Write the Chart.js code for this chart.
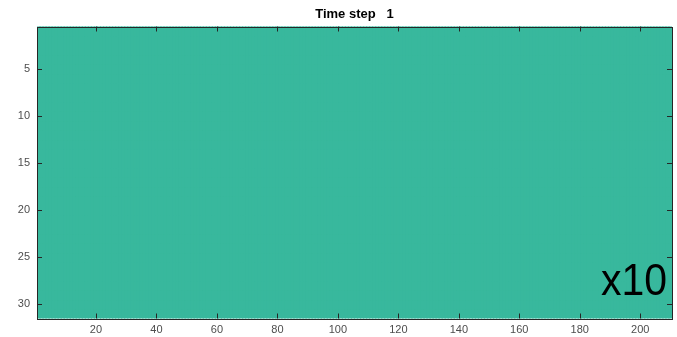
<!DOCTYPE html>
<html>
<head>
<meta charset="utf-8">
<script src="https://cdn.jsdelivr.net/npm/chart.js@4/dist/chart.umd.min.js"></script>
<style>
  html, body { margin: 0; padding: 0; background: #ffffff; }
  #wrap { width: 677px; height: 337px; position: relative; }
</style>
</head>
<body>
<div id="wrap"><canvas id="c"></canvas></div>
<script>
// ---- data ----
const titleText = "Time step   1";
const annotationText = "x10";
const nCols = 210;            // image columns (x)
const nRows = 31;             // image rows (y)
const cellValue = 0.55;       // every cell of the field has the same value at this step
const xTicks = [20, 40, 60, 80, 100, 120, 140, 160, 180, 200];
const yTicks = [5, 10, 15, 20, 25, 30];
const fieldRows = Array.from({length: nRows}, () => Array(nCols).fill(cellValue));

// colormap lookup (only the value present is needed; teal of the reference)
function colorFor(v) { return 'rgb(56,184,157)'; }

const datasets = fieldRows.map((row, r) => ({
  label: 'row ' + (r + 1),
  data: row.map((v, c) => ({ x: c + 1, y: [r + 0.5, r + 1.5], v: v })),
  backgroundColor: row.map(v => colorFor(v)),
  borderWidth: 0,
  barPercentage: 1,
  categoryPercentage: 1,
  inflateAmount: 0.6,
  grouped: false
}));

const axisColor = '#262626';
const labelColor = '#4d4d4d';

const framePlugin = {
  id: 'frame',
  afterDatasetsDraw(chart) {
    const {ctx, chartArea: a, scales} = chart;
    ctx.save();
    ctx.strokeStyle = axisColor;
    ctx.lineWidth = 1;
    ctx.beginPath();
    // tick marks, inward, on all four sides
    const tl = 5;
    xTicks.forEach(v => {
      const px = Math.round(scales.x.getPixelForValue(v)) + 0.5;
      ctx.moveTo(px, a.bottom); ctx.lineTo(px, a.bottom - tl);
      ctx.moveTo(px, a.top); ctx.lineTo(px, a.top + tl);
    });
    yTicks.forEach(v => {
      const py = Math.round(scales.y.getPixelForValue(v)) + 0.5;
      ctx.moveTo(a.left, py); ctx.lineTo(a.left + tl, py);
      ctx.moveTo(a.right, py); ctx.lineTo(a.right - tl, py);
    });
    ctx.stroke();
    ctx.strokeRect(Math.round(a.left) + 0.5, Math.round(a.top) + 0.5,
                   Math.round(a.right - a.left), Math.round(a.bottom - a.top));
    // title, centred over the plot box
    ctx.fillStyle = '#000000';
    ctx.font = 'bold 13px "Liberation Sans", Arial, sans-serif';
    ctx.textAlign = 'center';
    ctx.textBaseline = 'middle';
    ctx.fillText(titleText, (a.left + a.right) / 2, 14);
    // annotation
    ctx.font = '44px "Liberation Sans", Arial, sans-serif';
    ctx.textAlign = 'left';
    ctx.textBaseline = 'alphabetic';
    ctx.fillText(annotationText, 601, 295, 66);
    ctx.restore();
  }
};

new Chart(document.getElementById('c'), {
  type: 'bar',
  data: { datasets },
  options: {
    responsive: true,
    maintainAspectRatio: false,
    animation: false,
    events: [],
    layout: { padding: { left: 0, right: 5, top: 26.5, bottom: 0 } },
    plugins: {
      legend: { display: false },
      tooltip: { enabled: false },
      title: { display: false }
    },
    scales: {
      x: {
        type: 'linear',
        min: 0.5,
        max: nCols + 0.5,
        offset: false,
        grid: { display: false, drawTicks: false },
        border: { display: false },
        afterBuildTicks(s) { s.ticks = xTicks.map(v => ({ value: v })); },
        afterFit(s) { s.height = 18.5; },
        ticks: {
          color: labelColor,
          padding: 5,
          maxRotation: 0,
          autoSkip: false,
          font: { family: '"Liberation Sans", Arial, sans-serif', size: 11 }
        }
      },
      y: {
        type: 'linear',
        reverse: true,
        min: 0.5,
        max: nRows + 0.5,
        grid: { display: false, drawTicks: false },
        border: { display: false },
        afterBuildTicks(s) { s.ticks = yTicks.map(v => ({ value: v })); },
        afterFit(s) { s.width = 37; },
        ticks: {
          color: labelColor,
          padding: 7,
          autoSkip: false,
          font: { family: '"Liberation Sans", Arial, sans-serif', size: 11 }
        }
      }
    }
  },
  plugins: [framePlugin]
});
</script>
</body>
</html>
